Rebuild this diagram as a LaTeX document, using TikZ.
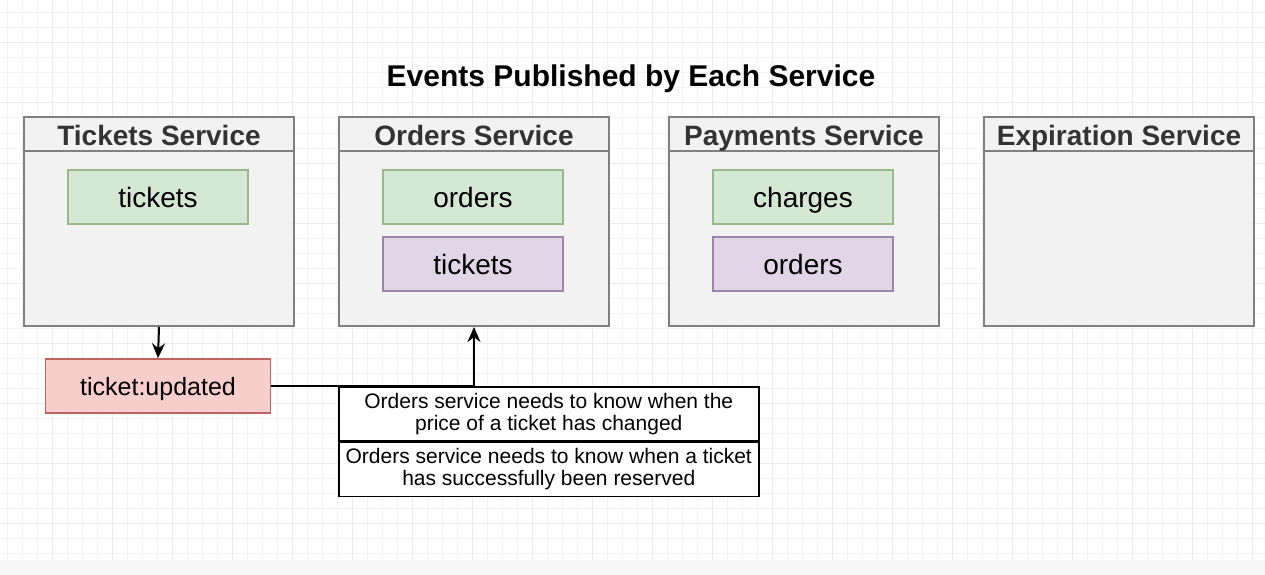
\documentclass[tikz,border=0pt]{standalone}
\usepackage{fontspec}
\setmainfont{Liberation Sans}
\usetikzlibrary{positioning,arrows.meta}
\definecolor{gridline}{HTML}{F3F3F3}
\definecolor{gridmajor}{HTML}{EBEBEB}
\definecolor{svcfill}{HTML}{F2F2F2}
\definecolor{svcline}{HTML}{808080}
\definecolor{svctext}{HTML}{333333}
\definecolor{greenfill}{HTML}{D5E8D4}
\definecolor{greenline}{HTML}{9BB88A}
\definecolor{purplefill}{HTML}{E1D5E7}
\definecolor{purpleline}{HTML}{9E84AD}
\definecolor{redfill}{HTML}{F8CECC}
\definecolor{redline}{HTML}{C0635E}
\tikzset{
  service/.style={draw=svcline, fill=svcfill, line width=2pt, minimum width=270pt,
    minimum height=209pt, anchor=north west, inner sep=0pt},
  svchead/.style={draw=svcline, fill=svcfill, line width=2pt, minimum width=270pt,
    minimum height=34pt, anchor=north west, inner sep=0pt, text=svctext,
    text height=28pt, text depth=5pt,
    font=\fontsize{28}{30}\selectfont\bfseries},
  chan/.style={minimum width=180pt, minimum height=54pt, line width=1.5pt, inner sep=0pt,
    text height=27pt, text depth=6pt, font=\fontsize{28}{30}\selectfont},
  pubchan/.style={chan, draw=greenline, fill=greenfill},
  subchan/.style={chan, draw=purpleline, fill=purplefill},
  evt/.style={draw=redline, fill=redfill, line width=1.5pt, minimum width=225pt,
    minimum height=54pt, inner sep=0pt, text height=22pt, text depth=4pt,
    font=\fontsize{25}{27}\selectfont},
  note/.style={draw, line width=1.5pt, fill=white, minimum width=420pt, minimum height=54pt,
    align=center, inner sep=0pt, anchor=north west,
    font=\fontsize{21}{22}\selectfont},
  flow/.style={line width=2pt, -{Stealth[length=15pt,width=13pt]}}
}
\begin{document}
\begin{tikzpicture}[x=1pt,y=-1pt]
  \useasboundingbox (0,0) rectangle (1265,575);
  \fill[white] (0,0) rectangle (1265,575);
  % background grid
  \foreach \x in {7,22,...,1260}
    \draw[gridline, line width=1pt] (\x,0) -- (\x,560);
  \foreach \y in {13,28,...,560}
    \draw[gridline, line width=1pt] (0,\y) -- (1265,\y);
  \foreach \x in {52,112,...,1260}
    \draw[gridmajor, line width=1pt] (\x,0) -- (\x,560);
  \foreach \y in {43,103,...,560}
    \draw[gridmajor, line width=1pt] (0,\y) -- (1265,\y);
  \fill[svcfill!60] (0,560) rectangle (1265,575);

  % title
  \node[font=\fontsize{30}{32}\selectfont\bfseries, anchor=base] (title) at (631,87)
    {Events Published by Each Service};

  % service boxes
  \foreach \x/\name/\lab in {23/tick/Tickets Service,338/ord/Orders Service,
      668/pay/Payments Service,983/exp/Expiration Service}{
    \node[service] (\name) at (\x,116) {};
    \node[svchead] (\name-head) at (\x,116) {\lab};
  }

  % channels
  \node[pubchan] (tick-pub) at (158,197) {tickets};
  \node[pubchan] (ord-pub) at (473,197) {orders};
  \node[subchan] (ord-sub) at (473,264) {tickets};
  \node[pubchan] (pay-pub) at (803,197) {charges};
  \node[subchan] (pay-sub) at (803,264) {orders};

  % event and notes
  \node[evt] (upd) at (158,386) {ticket:updated};
  \node[note] (why1) at (338,386)
    {Orders service needs to know when the\\price of a ticket has changed};
  \node[note, below=0pt of why1] (why2)
    {Orders service needs to know when a ticket\\has successfully been reserved};

  % connectors
  \draw[flow] (tick.south) -- (upd.north);
  \draw[flow] (upd.east) -| (ord.south);
\end{tikzpicture}
\end{document}
